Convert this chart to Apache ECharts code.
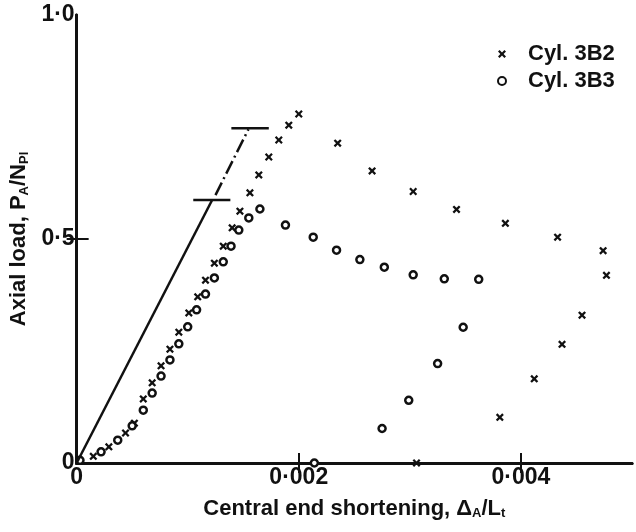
<!DOCTYPE html>
<html lang="en" style="height: 100%;margin: 0;background-color: #fff;">
<head>
    <meta charset="UTF-8">
    <title>chart</title>
</head>
<body style="height: 100%;margin: 0;background-color: #fff;">
<div id="chart" style="width: 636px;height: 532px;margin: 0;"></div>
<script src="https://cdn.jsdelivr.net/npm/echarts@6/dist/echarts.min.js"></script>
<script>
    // Cyl. 3B2 (x markers): [shortening, load]
    var cyl3B2 = [
        [0.00015, 0.015], [0.00029, 0.036], [0.00044, 0.067], [0.00052, 0.089],
        [0.00060, 0.143], [0.00068, 0.179], [0.00076, 0.217], [0.00084, 0.254],
        [0.00092, 0.292], [0.00101, 0.335], [0.00109, 0.371], [0.00116, 0.408],
        [0.00124, 0.446], [0.00132, 0.484], [0.00140, 0.525], [0.00147, 0.562],
        [0.00156, 0.603], [0.00164, 0.643], [0.00173, 0.683], [0.00182, 0.721],
        [0.00191, 0.754], [0.00200, 0.779],
        [0.00235, 0.714], [0.00266, 0.652], [0.00303, 0.606], [0.00342, 0.566],
        [0.00386, 0.535], [0.00433, 0.504], [0.00474, 0.474], [0.00477, 0.419],
        [0.00455, 0.330], [0.00437, 0.265], [0.00412, 0.188], [0.00381, 0.102],
        [0.00306, 0.0]
    ];
    // Cyl. 3B3 (o markers)
    var cyl3B3 = [
        [0.00003, 0.006], [0.00022, 0.025], [0.00037, 0.051], [0.00050, 0.083],
        [0.00060, 0.118], [0.00068, 0.156], [0.00076, 0.194], [0.00084, 0.230],
        [0.00092, 0.266], [0.00100, 0.304], [0.00108, 0.342], [0.00116, 0.377],
        [0.00124, 0.413], [0.00132, 0.449], [0.00139, 0.484], [0.00146, 0.520],
        [0.00155, 0.547], [0.00165, 0.567],
        [0.00188, 0.531], [0.00213, 0.504], [0.00234, 0.475], [0.00255, 0.454],
        [0.00277, 0.437], [0.00303, 0.420], [0.00331, 0.411], [0.00362, 0.410],
        [0.00348, 0.303], [0.00325, 0.222], [0.00299, 0.140], [0.00275, 0.077],
        [0.00214, 0.0]
    ];
    // elastic line (solid part, then chain-dashed part) and its two limit bars
    var elasticSolid = [[0, 0], [0.00122, 0.587]];
    var elasticDashed = [[0.00125, 0.598], [0.001547, 0.745]];
    var lowerBar = [[0.00105, 0.587], [0.001384, 0.587]];
    var upperBar = [[0.001393, 0.747], [0.00173, 0.747]];

    var xTicks = [0, 0.002, 0.004];
    var xTickLabels = ["0", "0·002", "0·004"];
    var yTicks = [0, 0.5, 1];
    var yTickLabels = ["0", "0·5", "1·0"];
    var seriesNames = ["Cyl. 3B2", "Cyl. 3B3"];

    var INK = "#111";
    var FONT = "Liberation Sans";
    var crossPath = "path://M0,2L2,0L5,3L8,0L10,2L7,5L10,8L8,10L5,7L2,10L0,8L3,5Z";

    var myChart = echarts.init(document.getElementById("chart"), null, {renderer: "canvas"});

    function lineSeries(data, type) {
        return {
            type: "line",
            data: data,
            symbol: "none",
            silent: true,
            lineStyle: {color: INK, width: 2.5, type: type || "solid"}
        };
    }

    var option = {
        backgroundColor: "#fff",
        animation: false,
        textStyle: {fontFamily: FONT, color: INK},
        grid: {left: 71, right: 4, top: 15, bottom: 69},
        legend: {
            data: [
                {name: seriesNames[0], icon: crossPath},
                {name: seriesNames[1], icon: "circle"}
            ],
            orient: "vertical",
            left: 492,
            top: 38,
            itemWidth: 8,
            itemHeight: 8,
            itemGap: 5,
            textStyle: {fontSize: 22, fontWeight: "bold", color: INK, lineHeight: 22, padding: [0, 0, 0, 17]}
        },
        xAxis: [{
            type: "value",
            min: 0,
            max: 0.005,
            name: "Central end shortening, {d|Δ}{sub|A}/L{sub|t}",
            nameLocation: "middle",
            nameGap: 34,
            nameTextStyle: {
                fontSize: 22, fontWeight: "bold", color: INK,
                rich: {
                    d: {fontSize: 22, fontWeight: "bold", color: INK},
                    sub: {fontSize: 13, fontWeight: "bold", color: INK, padding: [10, 0, 0, 0]}
                }
            },
            splitLine: {show: false},
            axisLine: {lineStyle: {color: INK, width: 3}},
            axisTick: {inside: true, length: 10, customValues: xTicks, lineStyle: {color: INK, width: 2}},
            axisLabel: {
                customValues: xTicks, margin: 3, fontSize: 23, fontWeight: "bold", color: INK,
                formatter: function (v) {
                    var i = xTicks.indexOf(v);
                    return i < 0 ? "" : xTickLabels[i];
                }
            }
        }, {
            type: "value",
            position: "top",
            min: 0,
            max: 0.005,
            splitLine: {show: false},
            axisLine: {lineStyle: {color: INK, width: 3}},
            axisTick: {inside: true, length: 10, customValues: [0.002, 0.004], lineStyle: {color: INK, width: 2}},
            axisLabel: {show: false}
        }],
        yAxis: [{
            type: "value",
            min: 0,
            max: 1,
            interval: 0.5,
            name: "Axial load, P{sub|A}/N{sub|Pl}",
            nameLocation: "middle",
            nameRotate: 90,
            nameGap: 42,
            nameTextStyle: {
                fontSize: 22, fontWeight: "bold", color: INK,
                rich: {
                    sub: {fontSize: 13, fontWeight: "bold", color: INK, padding: [10, 0, 0, 0]}
                }
            },
            splitLine: {show: false},
            axisLine: {lineStyle: {color: INK, width: 3}},
            axisTick: {inside: true, length: 12, customValues: [0.5], lineStyle: {color: INK, width: 2}},
            axisLabel: {
                margin: 2, fontSize: 23, fontWeight: "bold", color: INK,
                formatter: function (v) {
                    var i = yTicks.indexOf(v);
                    return i < 0 ? "" : yTickLabels[i];
                }
            }
        }, {
            type: "value",
            position: "right",
            min: 0,
            max: 1,
            interval: 0.5,
            splitLine: {show: false},
            axisLine: {lineStyle: {color: INK, width: 3}},
            axisTick: {inside: true, length: 10, customValues: [0.5], lineStyle: {color: INK, width: 2}},
            axisLabel: {show: false}
        }],
        series: [
            {
                name: seriesNames[0],
                type: "scatter",
                data: cyl3B2,
                symbol: crossPath,
                symbolSize: 8,
                itemStyle: {color: INK, opacity: 1}
            },
            {
                name: seriesNames[1],
                type: "scatter",
                data: cyl3B3,
                symbol: "circle",
                symbolSize: 7,
                itemStyle: {color: "#fff", borderColor: INK, borderWidth: 2.5, opacity: 1}
            },
            lineSeries(elasticSolid),
            lineSeries(elasticDashed, [14, 4, 2, 4]),
            lineSeries(lowerBar),
            lineSeries(upperBar)
        ]
    };
    myChart.setOption(option, true);
</script>
</body>
</html>
